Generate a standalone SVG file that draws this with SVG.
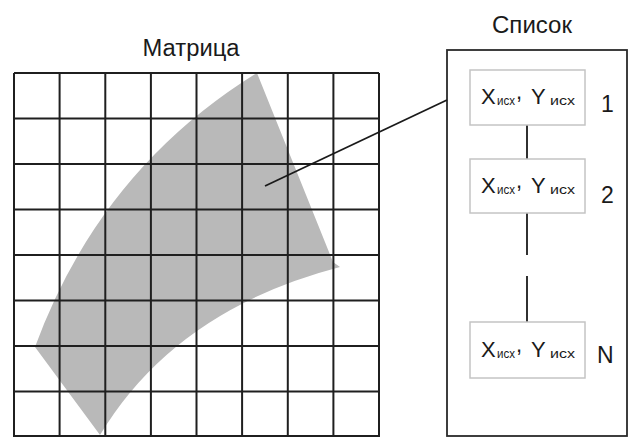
<svg xmlns="http://www.w3.org/2000/svg" width="629" height="437" viewBox="0 0 629 437">
<style>
text,tspan{font-family:"Liberation Sans",Arial,sans-serif;fill:#1a1a1a}
.grid line{stroke:#1f1f1f;stroke-width:2}
.item{fill:#fff;stroke:#c4c4c4;stroke-width:1.5}
.conn{stroke:#1a1a1a;stroke-width:1.8;fill:none}
</style>
<rect width="629" height="437" fill="#fff"/>
<g id="matrix">
<text font-size="23" x="191" y="56" text-anchor="middle" textLength="97" lengthAdjust="spacingAndGlyphs">Матрица</text>
<path id="region" d="M257,73 L333,262 L340,267 Q175,310 100,435 L35,347 Q100,170 257,73 Z" fill="#b9b9b9"/>
<g class="grid">
<line x1="14" y1="73" x2="14" y2="437"/>
<line x1="59.6" y1="73" x2="59.6" y2="437"/>
<line x1="105.3" y1="73" x2="105.3" y2="437"/>
<line x1="150.9" y1="73" x2="150.9" y2="437"/>
<line x1="196.5" y1="73" x2="196.5" y2="437"/>
<line x1="242.1" y1="73" x2="242.1" y2="437"/>
<line x1="287.8" y1="73" x2="287.8" y2="437"/>
<line x1="333.4" y1="73" x2="333.4" y2="437"/>
<line x1="379" y1="73" x2="379" y2="437"/>
<line x1="14" y1="73" x2="379" y2="73"/>
<line x1="14" y1="118.5" x2="379" y2="118.5"/>
<line x1="14" y1="164" x2="379" y2="164"/>
<line x1="14" y1="209.5" x2="379" y2="209.5"/>
<line x1="14" y1="255" x2="379" y2="255"/>
<line x1="14" y1="300.5" x2="379" y2="300.5"/>
<line x1="14" y1="346" x2="379" y2="346"/>
<line x1="14" y1="391.5" x2="379" y2="391.5"/>
<line x1="14" y1="436" x2="379" y2="436"/>
</g>
</g>
<g id="list">
<text font-size="23" x="532" y="33" text-anchor="middle" textLength="80" lengthAdjust="spacingAndGlyphs">Список</text>
<rect x="447" y="50" width="180" height="386" fill="none" stroke="#2a2a2a" stroke-width="1.8"/>
</g>
<g id="connectors">
<line class="conn" x1="265" y1="186" x2="447" y2="100"/>
<line class="conn" x1="527" y1="125" x2="527" y2="159"/>
<line class="conn" x1="527" y1="213" x2="527" y2="255"/>
<line class="conn" x1="527" y1="276" x2="527" y2="322"/>
</g>
<g id="item1">
<rect class="item" x="470" y="70" width="115" height="55"/>
<text x="481" y="104" font-size="22">X<tspan x="497" font-size="12.5" dy="1" textLength="18" lengthAdjust="spacingAndGlyphs">исх</tspan><tspan x="516" dy="-6">,</tspan><tspan x="531" dy="5">Y</tspan><tspan x="550" font-size="12.5" dy="1" textLength="25" lengthAdjust="spacingAndGlyphs">исх</tspan></text>
<text font-size="23" x="601" y="112">1</text>
</g>
<g id="item2">
<rect class="item" x="470" y="159" width="115" height="54"/>
<text x="481" y="193" font-size="22">X<tspan x="497" font-size="12.5" dy="1" textLength="18" lengthAdjust="spacingAndGlyphs">исх</tspan><tspan x="516" dy="-6">,</tspan><tspan x="531" dy="5">Y</tspan><tspan x="550" font-size="12.5" dy="1" textLength="25" lengthAdjust="spacingAndGlyphs">исх</tspan></text>
<text font-size="23" x="601" y="203">2</text>
</g>
<g id="itemN">
<rect class="item" x="470" y="322" width="115" height="56"/>
<text x="481" y="357" font-size="22">X<tspan x="497" font-size="12.5" dy="1" textLength="18" lengthAdjust="spacingAndGlyphs">исх</tspan><tspan x="516" dy="-6">,</tspan><tspan x="531" dy="5">Y</tspan><tspan x="550" font-size="12.5" dy="1" textLength="25" lengthAdjust="spacingAndGlyphs">исх</tspan></text>
<text font-size="23" x="597" y="363">N</text>
</g>
</svg>
